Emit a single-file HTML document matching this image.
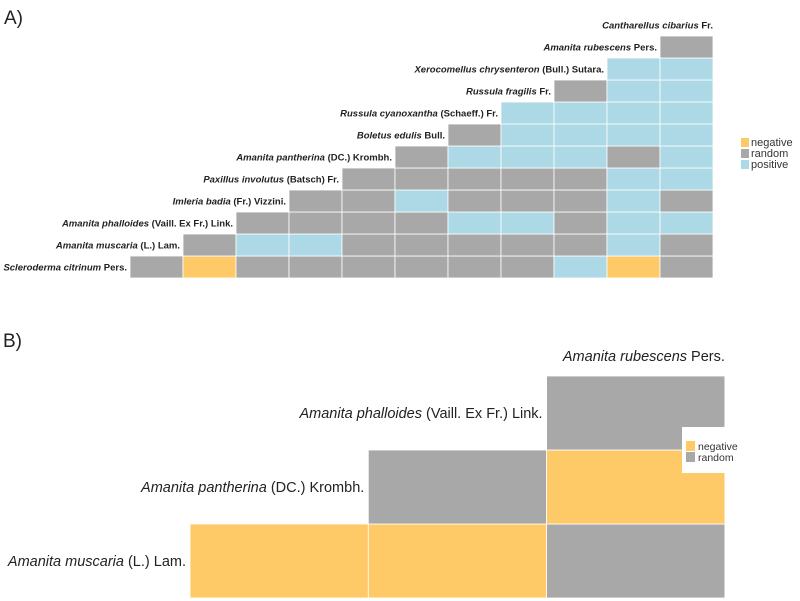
<!DOCTYPE html>
<html><head><meta charset="utf-8"><style>
body{margin:0;background:#fff;width:800px;height:601px;overflow:hidden}
svg{display:block}
.la{font-family:"Liberation Sans",sans-serif;font-size:9.5px;font-weight:bold;fill:#222}
.lb{font-family:"Liberation Sans",sans-serif;font-size:14.5px;fill:#222}
.lg{font-family:"Liberation Sans",sans-serif;fill:#333}
</style></head><body>
<svg id="chart" width="800" height="601" xmlns="http://www.w3.org/2000/svg">
<text x="4" y="24" font-family="Liberation Sans,sans-serif" font-size="19" fill="#222">A)</text>
<text x="3" y="347" font-family="Liberation Sans,sans-serif" font-size="19" fill="#222">B)</text>
<g id="ga"></g>
<g id="gb"></g>
<g>
<rect x="741" y="138" width="8" height="9" fill="#fdca67"/>
<text x="751" y="146" class="lg" font-size="11">negative</text>
<rect x="741" y="149" width="8" height="9" fill="#a8a8a8"/>
<text x="751" y="157" class="lg" font-size="11">random</text>
<rect x="741" y="160" width="8" height="9" fill="#add8e6"/>
<text x="751" y="168" class="lg" font-size="11">positive</text>
</g>
</svg>
<script>
const colors={N:'#fdca67',R:'#a8a8a8',P:'#add8e6'};
const speciesA=['Scleroderma citrinum|Pers.','Amanita muscaria|(L.) Lam.','Amanita phalloides|(Vaill. Ex Fr.) Link.','Imleria badia|(Fr.) Vizzini.','Paxillus involutus|(Batsch) Fr.','Amanita pantherina|(DC.) Krombh.','Boletus edulis|Bull.','Russula cyanoxantha|(Schaeff.) Fr.','Russula fragilis|Fr.','Xerocomellus chrysenteron|(Bull.) Sutara.','Amanita rubescens|Pers.','Cantharellus cibarius|Fr.'];
const rowsA=[
'RNRRRRRRPNR',
'RPPRRRRRPR',
'RRRRPPRPP',
'RRPRRRPR',
'RRRRRPP',
'RPPPRP',
'RPPPP',
'PPPP',
'RPP',
'PP',
'R'];
const speciesB=['Amanita muscaria|(L.) Lam.','Amanita pantherina|(DC.) Krombh.','Amanita phalloides|(Vaill. Ex Fr.) Link.','Amanita rubescens|Pers.'];
const rowsB=['NNR','RN','R'];
const NS='http://www.w3.org/2000/svg';
function mk(tag,attrs,parent){const e=document.createElementNS(NS,tag);for(const k in attrs)e.setAttribute(k,attrs[k]);parent.appendChild(e);return e;}
function label(parent,txt,x,y,cls){const t=mk('text',{x:x,y:y,'text-anchor':'end',class:cls},parent);const [it,rest]=txt.split('|');const a=mk('tspan',{'font-style':'italic'},t);a.textContent=it;const b=mk('tspan',{},t);b.textContent=' '+rest;return t;}
function draw(g,rows,species,x0,cw,yb,rh,cls,fs,gap,topY){
  const n=rows.length;
  rows.forEach((r,ri)=>{
    const y=yb-(ri+1)*rh;
    r.split('').forEach((c,k)=>{
      const ci=ri+k;
      const el=mk('rect',{x:x0+ci*cw,y:y,width:cw,height:rh,fill:colors[c],stroke:'#fff','stroke-width':0.8},g);
      
      
    });
  });
  species.forEach((s,i)=>{
    const xr=i>=n?x0+n*cw:x0+i*cw-gap;
    let y=yb-(i+0.5)*rh+fs*0.35;
    if(i>=n&&topY)y=topY;
    const t=label(g,s,xr,y,cls);
    
    
  });
}
draw(document.getElementById('ga'),rowsA,speciesA,130,53,278,22,'la',9.5,3,0);
draw(document.getElementById('gb'),rowsB,speciesB,190,178.3,598,74,'lb',14.5,4,361);
const gb=document.getElementById('gb');
const box=mk('rect',{x:682,y:427,width:45,height:46,fill:'#fff'},gb);


[['negative','#fdca67',441],['random','#a8a8a8',452]].forEach(([n,c,y])=>{
  const r=mk('rect',{x:686,y:y,width:9,height:10,fill:c},gb);
  
  
  const t=mk('text',{x:698,y:y+9,class:'lg','font-size':10.5},gb);t.textContent=n;
  
  
});
</script>
</body></html>
